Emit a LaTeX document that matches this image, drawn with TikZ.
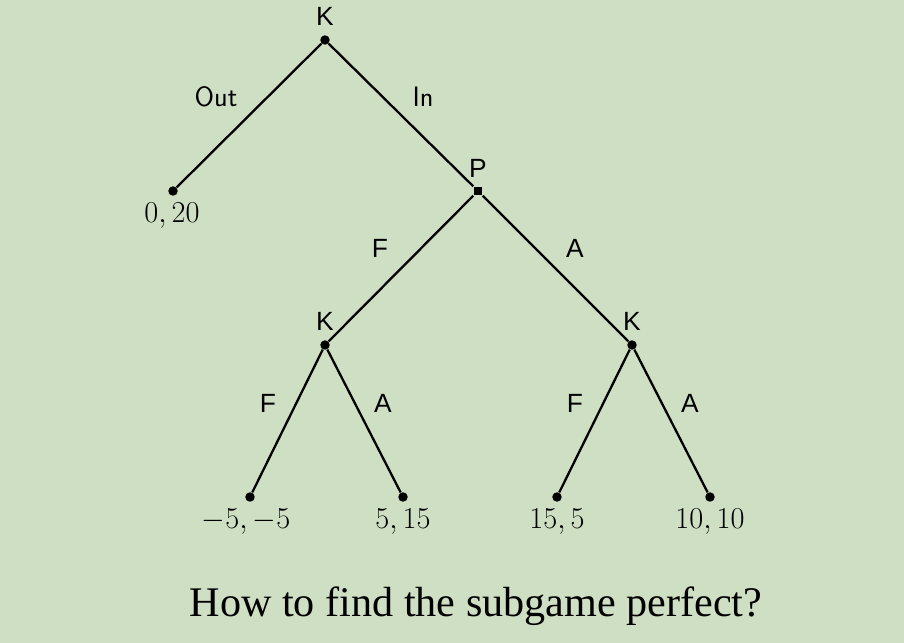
\documentclass[tikz,border=0pt]{standalone}
\usepackage{fontspec}
\newfontfamily\helv{Liberation Sans}
\newfontfamily\slidefont{Liberation Serif}
\usetikzlibrary{positioning}
\definecolor{slidebg}{RGB}{207,223,195}

\begin{document}
\begin{tikzpicture}[x=0.02cm,y=-0.02cm]
\fill[slidebg] (0,0) rectangle (904,643);
\tikzstyle{dot}=[circle, fill, inner sep=0pt, minimum size=5.4pt]
\tikzstyle{box}=[rectangle, fill, inner sep=0pt, minimum size=5pt]
\tikzstyle{player}=[inner sep=0pt, font=\helv\fontsize{15}{17}\selectfont]
\tikzstyle{move}=[inner sep=0pt, font=\sffamily\fontsize{16}{18}\selectfont]
\tikzstyle{pay}=[inner sep=0pt, font=\fontsize{17}{19}\selectfont]
% decision nodes
\node[dot] (k) at (325,40) {};
\node[box] (p) at (478,191) {};
\node[dot] (kl) at (325,345) {};
\node[dot] (kr) at (632,345) {};
% terminal nodes
\node[dot] (out) at (173,191) {};
\node[dot] (ff) at (250,497) {};
\node[dot] (fa) at (403,497) {};
\node[dot] (af) at (557,497) {};
\node[dot] (aa) at (710,497) {};
% players
\node[player] (kname) at (325,16) {K};
\node[player] (pname) at (478,168) {P};
\node[player] (klname) at (325,321) {K};
\node[player] (krname) at (632,321) {K};
% moves
\node[move] (lout) at (216,97) {Out};
\node[move] (lin) at (423,97) {In};
\node[player] (lpf) at (380,248) {F};
\node[player] (lpa) at (575,248) {A};
\node[player] (llf) at (268,403) {F};
\node[player] (lla) at (383,403) {A};
\node[player] (lrf) at (575,403) {F};
\node[player] (lra) at (690,403) {A};
% payoffs
\node[pay] (pout) at (172,216) {$0,20$};
\node[pay] (pff) at (246,522) {$-5,-5$};
\node[pay] (pfa) at (403,522) {$5,15$};
\node[pay] (paf) at (557,522) {$15,5$};
\node[pay] (paa) at (710,522) {$10,10$};
\node[inner sep=0pt, font=\slidefont\fontsize{24}{28}\selectfont] (title) at (476,606) {How to find the subgame perfect?};
\draw[line width=1.3pt] (out)--(k)--(p)--(kl)--(ff) (kl)--(fa) (p)--(kr)--(af) (kr)--(aa);
\end{tikzpicture}
\end{document}
